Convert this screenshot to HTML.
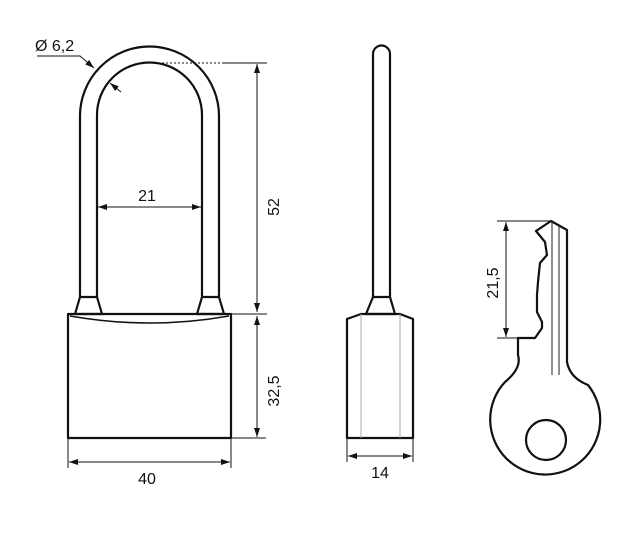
<!DOCTYPE html>
<html><head><meta charset="utf-8"><style>
html,body{margin:0;padding:0;background:#fff;}
svg{display:block;}
text{font-family:"Liberation Sans",Arial,sans-serif;font-size:16px;fill:#111;}
</style></head><body>
<svg width="635" height="545" viewBox="0 0 635 545" xmlns="http://www.w3.org/2000/svg">
<defs>
<marker id="a" markerWidth="10" markerHeight="8" refX="9" refY="4" orient="auto-start-reverse" markerUnits="userSpaceOnUse">
<path d="M0,1 L9,4 L0,7 Z" fill="#111"/></marker>
</defs>
<g fill="none" stroke="#111" stroke-width="2.2" stroke-linejoin="round">
<path d="M80,297 L80,116 A69.5,69.5 0 0 1 219,116 L219,297"/>
<path d="M97,297 L97,115 A52.5,52.5 0 0 1 202,115 L202,297"/>
<path d="M80,297 L97,297 L102,314 L75,314 Z"/>
<path d="M202,297 L219,297 L224,314 L197,314 Z"/>
<rect x="68" y="314" width="163" height="124"/>
<path d="M70,316 Q150,330 229,316" stroke-width="1.6"/>
<path d="M373,297 L373,54 A8.5,8.5 0 0 1 390,54 L390,297"/>
<path d="M373,297 L390,297 L395,314 L366,314 Z"/>
<path d="M347,438 L347,319 L361,314 L400,314 L413,319 L413,438 Z"/>
<path d="M551,221 L567,230 L567,362 Q570,378 588,385 A55,55 0 1 1 505,382 Q522,368 518,355 L518,338 L535,338 L542,328 L542,322 L537,312 L537,295 L538,282 L540,263 L547,255 L545,242 L536,231 Z"/>
<circle cx="546" cy="440" r="20"/>
</g>
<g stroke="#aaa" stroke-width="1">
<line x1="361" y1="314" x2="361" y2="438"/><line x1="400" y1="314" x2="400" y2="438"/>
</g>
<g stroke="#222" stroke-width="1">
<line x1="552" y1="221" x2="552" y2="375"/><line x1="559" y1="226" x2="559" y2="375"/>
</g>
<g stroke="#111" stroke-width="1">
<line x1="150" y1="63" x2="222" y2="63" stroke-dasharray="2,2"/>
<line x1="222" y1="63" x2="267" y2="63"/>
<line x1="231" y1="314" x2="267" y2="314"/>
<line x1="231" y1="438" x2="266" y2="438"/>
<line x1="257" y1="64" x2="257" y2="312" marker-start="url(#a)" marker-end="url(#a)"/>
<line x1="257" y1="316" x2="257" y2="437" marker-start="url(#a)" marker-end="url(#a)"/>
<line x1="68" y1="438" x2="68" y2="468"/><line x1="231" y1="438" x2="231" y2="468"/>
<line x1="69" y1="462" x2="230" y2="462" marker-start="url(#a)" marker-end="url(#a)"/>
<line x1="98" y1="207" x2="201" y2="207" marker-start="url(#a)" marker-end="url(#a)"/>
<polyline points="37,56 80,56 94,68" fill="none" marker-end="url(#a)"/>
<line x1="121" y1="92" x2="110" y2="83" marker-end="url(#a)"/>
<line x1="347" y1="438" x2="347" y2="462"/><line x1="413" y1="438" x2="413" y2="462"/>
<line x1="348" y1="456" x2="412" y2="456" marker-start="url(#a)" marker-end="url(#a)"/>
<line x1="497" y1="221" x2="551" y2="221"/>
<line x1="497" y1="338" x2="518" y2="338"/>
<line x1="506" y1="222" x2="506" y2="337" marker-start="url(#a)" marker-end="url(#a)"/>
</g>
<text x="35" y="51">Ø 6,2</text>
<text x="147" y="201" text-anchor="middle">21</text>
<text x="147" y="484" text-anchor="middle">40</text>
<text x="380" y="478" text-anchor="middle">14</text>
<text transform="translate(279,207) rotate(-90)" text-anchor="middle">52</text>
<text transform="translate(279,391) rotate(-90)" text-anchor="middle">32,5</text>
<text transform="translate(498,283) rotate(-90)" text-anchor="middle">21,5</text>
</svg>
</body></html>
